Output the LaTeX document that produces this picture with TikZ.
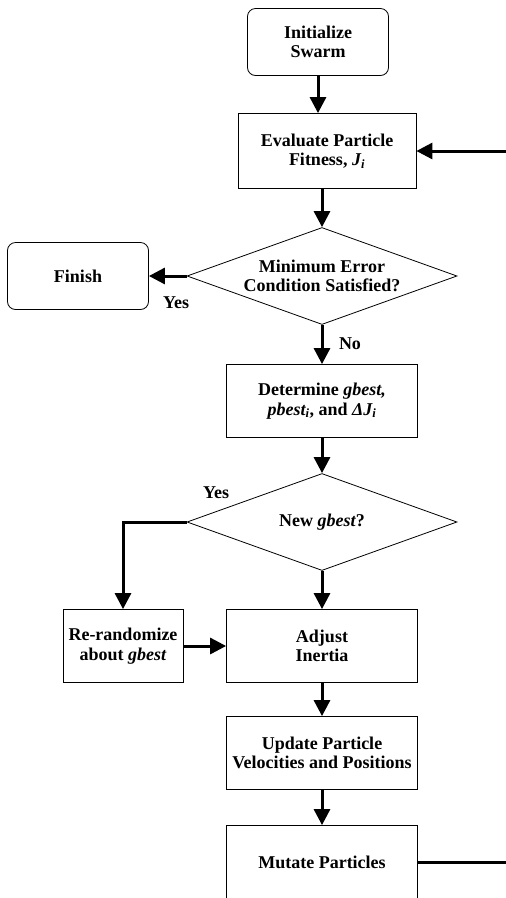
\documentclass[tikz,border=0pt]{standalone}
\usepackage{fontspec}
\setmainfont{Liberation Serif}
\usetikzlibrary{shapes.geometric,arrows.meta}

\begin{document}
\begin{tikzpicture}[x=1pt,y=-1pt,
    every node/.style={font=\fontsize{18}{19.5}\selectfont\bfseries, align=center},
    stepbox/.style={draw, line width=0.8pt, minimum width=191pt, minimum height=73pt, inner sep=3pt},
    endbox/.style={draw, line width=0.8pt, rounded corners=8pt, minimum width=141pt, minimum height=67pt},
    choice/.style={draw, diamond, aspect=2.8, line width=0.8pt, minimum width=270pt, minimum height=97pt, inner sep=0pt},
    flow/.style={line width=3pt, -{Triangle[length=16pt,width=16pt]}}]

    % Define the page
    \useasboundingbox (0,0) rectangle (506,898);
    \clip (0,0) rectangle (506,898);

    % Draw the steps
    \node[endbox] (init) at (318,42) {Initialize\\Swarm};
    \node[stepbox, minimum width=178pt, minimum height=75pt] (eval) at (327,151) {Evaluate Particle\\Fitness, \textit{J\textsubscript{i}}};
    \node[choice] (minerr) at (322,276) {Minimum Error\\Condition Satisfied?};
    \node[endbox] (finish) at (78,276) {Finish};
    \node[stepbox] (determine) at (322,401) {Determine \textit{gbest,}\\\textit{pbest\textsubscript{i}}, and \textit{ΔJ\textsubscript{i}}};
    \node[choice] (newbest) at (322,522) {New \textit{gbest}?};
    \node[stepbox, minimum width=120pt] (rerand) at (123,646) {Re-randomize\\about \textit{gbest}};
    \node[stepbox] (adjust) at (322,646) {Adjust\\Inertia};
    \node[stepbox] (update) at (322,753) {Update Particle\\Velocities and Positions};
    \node[stepbox] (mutate) at (322,862) {Mutate Particles};

    % Label the branches
    \node (yesfinish) at (176,303) {Yes};
    \node (nodetermine) at (350,344) {No};
    \node (yesbest) at (216,493) {Yes};

    % Draw the arrows
    \draw[flow] (init.south) -- (init.south |- eval.north);
    \draw[flow] (minerr.north |- eval.south) -- (minerr.north);
    \draw[flow] (minerr.west) -- (finish.east);
    \draw[flow] (minerr.south) -- (determine.north);
    \draw[flow] (determine) -- (newbest);
    \draw[flow] (newbest.west) -| (rerand.north);
    \draw[flow] (newbest.south) -- (adjust.north);
    \draw[flow] (rerand) -- (adjust);
    \draw[flow] (adjust) -- (update);
    \draw[flow] (update) -- (mutate);

    % Loop back to the evaluation
    \coordinate (loopcorner) at (540,500);
    \draw[flow] (mutate.east) -| (loopcorner) |- (eval.east);

\end{tikzpicture}
\end{document}
